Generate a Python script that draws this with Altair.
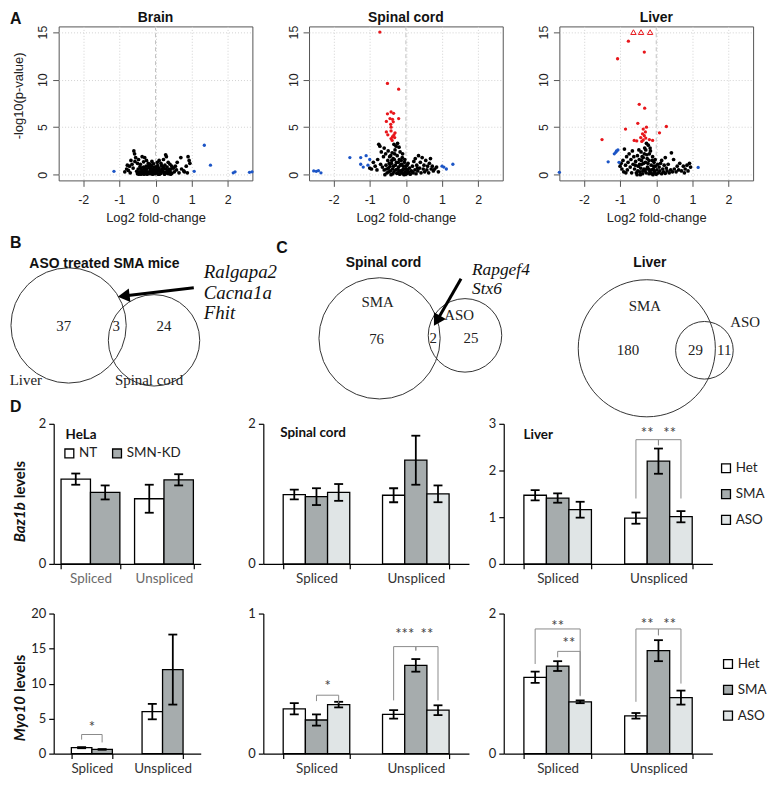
import math
import altair as alt
import pandas as pd

SANS = "Liberation Sans, Arial, Helvetica, sans-serif"
SERIF = "Liberation Serif, Times New Roman, serif"
CAL = "Lato, Open Sans, sans-serif"

# ===================== DATA =====================
brain_black = [
    (-0.50, 0.10), (-0.45, 0.30), (-0.40, 0.05), (-0.38, 0.50), (-0.35, 0.20), (-0.33, 0.80), (-0.30, 0.40), (-0.28, 0.10),
    (-0.25, 0.60), (-0.22, 0.30), (-0.20, 0.90), (-0.18, 0.15), (-0.15, 0.50), (-0.12, 0.70), (-0.10, 0.25), (-0.08, 0.05),
    (-0.05, 0.45), (-0.03, 0.80), (0.00, 0.20), (0.02, 0.60), (0.05, 0.35), (0.07, 0.05), (0.10, 0.70), (0.12, 0.40),
    (0.15, 0.15), (0.18, 0.55), (0.20, 0.85), (0.22, 0.30), (0.25, 0.05), (0.28, 0.60), (0.30, 0.25), (0.33, 0.45),
    (0.36, 0.10), (0.40, 0.35), (0.43, 0.60), (0.45, 0.15), (-0.48, 0.60), (-0.43, 0.85), (-0.36, 0.15), (-0.31, 0.65),
    (-0.27, 0.35), (-0.23, 0.05), (-0.17, 0.75), (-0.13, 0.35), (-0.07, 0.60), (-0.02, 0.10), (0.03, 0.85), (0.08, 0.50),
    (0.13, 0.20), (0.17, 0.95), (0.23, 0.70), (0.27, 0.15), (0.32, 0.80), (0.38, 0.55), (-0.52, 0.35), (-0.41, 0.70),
    (-0.26, 0.90), (-0.11, 0.95), (0.06, 0.95), (0.26, 1.00), (-0.46, 0.05), (-0.32, 0.05), (-0.14, 0.10), (0.01, 0.40),
    (0.11, 0.05), (0.34, 0.20), (0.42, 0.05), (-0.06, 0.25), (0.19, 0.35), (-0.39, 0.30),
    (-0.85, 0.30), (-0.80, 0.60), (-0.75, 0.45), (-0.72, 0.90), (-0.70, 0.20), (-0.65, 1.10), (-0.62, 0.70), (-0.60, 2.50),
    (-0.58, 2.20), (-0.57, 1.40), (-0.55, 1.80), (-0.50, 1.20), (-0.47, 1.60), (-0.42, 1.10), (-0.37, 1.90), (-0.33, 1.35),
    (-0.30, 1.80), (-0.25, 1.50), (-0.20, 1.20), (-0.15, 1.10), (-0.10, 1.40), (-0.05, 1.15), (0.05, 1.30), (0.10, 1.50),
    (0.15, 1.20), (0.22, 1.60), (0.28, 2.10), (0.30, 1.90), (0.35, 1.30), (0.40, 1.10), (0.45, 0.90), (0.50, 0.70),
    (0.52, 0.30), (0.55, 0.90), (0.58, 0.50), (0.60, 1.30), (0.65, 0.20), (0.70, 1.80), (0.72, 0.60), (0.78, 0.40),
    (0.80, 0.30), (0.85, 0.90), (0.90, 1.90), (0.93, 1.50), (0.95, 1.20), (0.88, 0.20), (-0.68, 1.50), (-0.78, 1.00),
]
brain_blue = [(-1.15, 0.35), (1.07, 0.35), (1.35, 3.10), (1.52, 1.00), (2.15, 0.20), (2.20, 0.30), (2.60, 0.25), (2.67, 0.30)]
brain_red = []

sc_black = [
    (-0.60, 0.50), (-0.55, 1.00), (-0.52, 0.20), (-0.50, 1.50), (-0.48, 0.70), (-0.45, 1.90), (-0.43, 0.40), (-0.40, 1.20),
    (-0.38, 2.30), (-0.36, 0.10), (-0.34, 0.90), (-0.32, 1.60), (-0.30, 2.60), (-0.28, 0.50), (-0.26, 1.30), (-0.24, 2.00),
    (-0.22, 0.20), (-0.20, 0.80), (-0.18, 1.60), (-0.16, 2.40), (-0.14, 0.40), (-0.12, 1.10), (-0.10, 1.80), (-0.08, 0.10),
    (-0.06, 0.60), (-0.04, 1.30), (-0.02, 0.30), (0.00, 0.90), (0.02, 0.10), (0.04, 0.50), (0.06, 1.20), (0.08, 0.30),
    (0.10, 0.70), (0.12, 0.05), (0.15, 0.40), (-0.58, 0.00), (-0.46, 1.20), (-0.41, 0.00), (-0.35, 1.70), (-0.29, 1.00),
    (-0.27, 3.00), (-0.25, 0.15), (-0.21, 1.30), (-0.19, 2.90), (-0.17, 0.05), (-0.15, 1.00), (-0.13, 1.50), (-0.11, 0.25),
    (-0.09, 2.20), (-0.07, 0.90), (-0.05, 0.00), (-0.03, 1.60), (0.01, 0.60), (0.03, 1.00), (-0.33, 3.20), (-0.23, 3.30),
    (-0.31, 2.20), (-0.39, 1.50), (-0.44, 0.90), (-0.49, 2.50), (-0.53, 0.60), (-0.47, 0.30), (-0.37, 0.60), (-0.33, 0.30),
    (-0.23, 0.60), (-0.19, 0.40), (-0.09, 0.50), (-0.01, 0.05), (0.05, 0.20), (-0.42, 2.00),
    (-1.00, 0.70), (-0.95, 0.60), (-0.90, 1.30), (-0.85, 0.90), (-0.80, 0.50), (-0.78, 1.60), (-0.75, 3.20), (-0.72, 3.00),
    (-0.70, 1.10), (-0.68, 2.40), (-0.65, 0.80), (-0.62, 1.90), (-0.60, 2.80), (-0.56, 2.20),
    (0.18, 0.90), (0.20, 0.20), (0.22, 1.40), (0.25, 0.50), (0.28, 0.10), (0.30, 1.00), (0.33, 0.40), (0.35, 2.00),
    (0.38, 0.70), (0.40, 1.30), (0.42, 0.20), (0.45, 1.80), (0.48, 0.60), (0.50, 1.00), (0.52, 0.30), (0.55, 1.50),
    (0.58, 0.50), (0.60, 0.90), (0.63, 0.20), (0.65, 1.20), (0.68, 1.70), (0.70, 0.60), (0.73, 0.90), (0.76, 0.40),
    (0.80, 0.60), (0.85, 0.80), (0.90, 0.30), (0.18, 0.30), (0.26, 1.70), (0.32, 0.70),
]
sc_blue = [(-2.55, 0.40), (-2.48, 0.35), (-2.42, 0.42), (-2.35, 0.20), (-1.55, 1.80), (-1.25, 1.80), (-1.25, 1.10),
           (-1.18, 0.80), (-1.10, 2.00), (-1.05, 1.00), (-1.00, 1.60), (1.00, 0.90), (1.05, 0.80), (1.12, 0.60), (1.30, 1.10)]
sc_red = [(-0.72, 15.0), (-0.51, 9.6), (-0.20, 9.0), (-0.51, 6.4), (-0.41, 6.6), (-0.34, 6.46), (-0.44, 5.9), (-0.37, 5.83),
          (-0.54, 5.6), (-0.35, 5.56), (-0.20, 5.9), (-0.42, 5.3), (-0.41, 5.0), (-0.54, 4.5), (-0.41, 4.6), (-0.30, 4.4),
          (-0.50, 4.2), (-0.37, 4.0), (-0.33, 4.2), (-0.41, 3.8), (-0.31, 3.9), (-0.38, 3.6)]

liver_black = [
    (-0.60, 0.60), (-0.57, 1.40), (-0.55, 0.20), (-0.52, 2.00), (-0.50, 0.90), (-0.47, 1.60), (-0.45, 0.30), (-0.42, 2.40),
    (-0.40, 1.10), (-0.38, 0.10), (-0.36, 1.80), (-0.34, 0.60), (-0.32, 2.80), (-0.30, 1.30), (-0.28, 0.20), (-0.26, 2.10),
    (-0.24, 0.80), (-0.22, 3.10), (-0.20, 1.50), (-0.18, 0.40), (-0.16, 2.50), (-0.14, 1.00), (-0.12, 0.10), (-0.10, 1.90),
    (-0.08, 0.60), (-0.06, 1.30), (-0.04, 0.20), (-0.02, 0.90), (0.00, 0.05), (0.02, 0.50), (0.04, 1.10), (-0.58, 1.00),
    (-0.53, 0.00), (-0.48, 2.60), (-0.43, 0.70), (-0.39, 1.90), (-0.35, 1.20), (-0.31, 0.40), (-0.27, 3.30), (-0.25, 1.70),
    (-0.21, 0.60), (-0.19, 2.20), (-0.15, 0.20), (-0.11, 1.50), (-0.07, 0.90), (-0.03, 1.60), (-0.33, 2.20), (-0.29, 2.60),
    (-0.17, 2.80), (-0.23, 1.20), (-0.13, 0.50), (-0.09, 0.00), (-0.41, 1.50), (-0.46, 1.10), (-0.51, 0.40), (-0.37, 0.40),
    (-0.27, 0.60), (-0.20, 0.10), (-0.05, 0.40), (-0.44, 0.00),
    (-1.00, 0.90), (-0.95, 0.60), (-0.92, 1.50), (-0.90, 0.30), (-0.88, 2.70), (-0.85, 1.00), (-0.82, 1.90), (-0.80, 0.50),
    (-0.78, 1.30), (-0.75, 2.20), (-0.72, 0.80), (-0.70, 1.60), (-0.68, 0.20), (-0.66, 2.50), (-0.64, 1.10), (-0.62, 1.90),
    (-0.97, 1.20), (-0.84, 0.20),
    (0.06, 0.20), (0.08, 0.80), (0.10, 0.40), (0.12, 1.20), (0.15, 0.10), (0.18, 0.60), (0.20, 0.30), (0.22, 1.00),
    (0.25, 0.15), (0.28, 0.70), (0.30, 0.40), (0.33, 1.10), (0.36, 0.20), (0.40, 0.50), (0.42, 2.30), (0.45, 0.30),
    (0.48, 1.60), (0.50, 0.60), (0.55, 0.30), (0.58, 0.90), (0.62, 0.50), (0.65, 1.20), (0.70, 0.40), (0.75, 0.90),
    (0.78, 0.20), (0.80, 0.60), (0.85, 1.00), (0.88, 0.40), (0.92, 1.20), (0.95, 0.80), (0.15, 1.50), (0.25, 1.80),
]
liver_blue = [(-1.16, 2.20), (-1.12, 2.35), (-1.10, 2.50), (-1.06, 2.60), (-1.33, 1.35), (-1.03, 1.30), (-2.68, 0.25), (1.16, 0.77)]
liver_red = [(-0.77, 14.05), (-0.33, 12.9), (-1.07, 12.2), (-0.47, 7.4), (-0.32, 7.0), (-0.85, 4.8), (-0.51, 5.4),
             (-0.27, 5.0), (-0.36, 4.8), (0.28, 5.07), (0.09, 4.4), (-1.50, 3.7), (-0.61, 3.6), (-0.54, 3.55),
             (-0.38, 4.3), (-0.33, 4.1), (-0.43, 3.9), (-0.29, 3.85), (-0.19, 3.7), (-0.10, 3.6), (-0.36, 3.65),
             (-0.40, 3.5), (-0.30, 4.5)]
liver_capped = [(-0.63, 15.0), (-0.42, 15.0), (-0.17, 15.0)]

volcano_titles = ["Brain", "Spinal cord", "Liver"]
lfc_ticks = [-2, -1, 0, 1, 2]
nlp_ticks = [0, 5, 10, 15]

venn_b_counts = [37, 3, 24]
venn_c_sc_counts = [76, 2, 25]
venn_c_liver_counts = [180, 29, 11]
venn_titles = ["ASO treated SMA mice", "Spinal cord", "Liver"]
venn_set_labels = ["Liver", "Spinal cord", "SMA", "ASO", "SMA", "ASO"]
genes_b = ["Ralgapa2", "Cacna1a", "Fhit"]
genes_c = ["Rapgef4", "Stx6"]

categories = ["Spliced", "Unspliced"]
hela_groups = ["NT", "SMN-KD"]
mouse_groups = ["Het", "SMA", "ASO"]

baz1b_hela_mean = [1.21, 1.02, 0.93, 1.20]
baz1b_hela_err = [0.08, 0.10, 0.20, 0.08]
baz1b_sc_mean = [0.99, 0.96, 1.02, 0.98, 1.48, 1.00]
baz1b_sc_err = [0.07, 0.12, 0.12, 0.10, 0.35, 0.12]
baz1b_liver_mean = [1.47, 1.41, 1.16, 0.98, 2.20, 1.01]
baz1b_liver_err = [0.11, 0.10, 0.17, 0.12, 0.27, 0.12]
myo10_hela_mean = [0.85, 0.60, 6.0, 12.0]
myo10_hela_err = [0.08, 0.05, 1.1, 5.0]
myo10_sc_mean = [0.32, 0.24, 0.35, 0.28, 0.63, 0.31]
myo10_sc_err = [0.04, 0.04, 0.02, 0.03, 0.045, 0.035]
myo10_liver_mean = [1.09, 1.25, 0.74, 0.54, 1.47, 0.80]
myo10_liver_err = [0.08, 0.07, 0.02, 0.04, 0.15, 0.10]

baz1b_liver_sig = [("Unspliced", "Het", "SMA", 1.40, 2.66, 2.54, "**", 2.88),
                   ("Unspliced", "SMA", "ASO", 2.54, 2.66, 1.40, "**", 2.88)]
myo10_hela_sig = [("Spliced", "NT", "SMN-KD", 2.0, 2.73, 1.6, "*", 4.3)]
myo10_sc_sig = [("Spliced", "SMA", "ASO", 0.375, 0.417, 0.36, "*", 0.51),
                ("Unspliced", "Het", "SMA", 0.38, 0.764, 0.736, "***", 0.885),
                ("Unspliced", "SMA", "ASO", 0.736, 0.764, 0.38, "**", 0.885)]
myo10_liver_sig = [("Spliced", "Het", "ASO", 1.28, 1.78, 0.83, "**", 1.88),
                   ("Spliced", "SMA", "ASO", 1.375, 1.46, 0.82, "**", 1.63),
                   ("Unspliced", "Het", "SMA", 0.74, 1.78, 1.69, "**", 1.90),
                   ("Unspliced", "SMA", "ASO", 1.69, 1.78, 1.00, "**", 1.90)]

# ===================== LAYOUT (pixels) =====================
VW, VH = 195, 155
BH = 141
ROW_TOPS = [25, 231, 425, 616]   # top of each row of panels
VENN_W, VENN_H = 700, 140
VENN_X0, VENN_Y0 = 52, ROW_TOPS[1]
venn_circles = [(67, 326, 58), (153, 341, 46), (380, 339, 61), (466, 336, 37), (649, 349, 69), (707, 351, 29)]
venn_number_pos = [(62, 327), (115, 327), (163, 327), (377, 340), (434, 339), (472, 339), (630, 351), (698, 351), (727, 351)]
venn_set_pos = [(24, 381), (148, 381), (378, 302), (460, 316), (647, 306), (748, 323)]
venn_title_pos = [(103, 264), (384, 263), (652, 263)]
genes_b_pos = [(203, 272), (203, 293), (203, 314)]
genes_c_pos = [(473, 270), (473, 289)]
arrows = [((193, 288), (117, 297)), ((462, 279), (435, 326))]
letters_venn = [("B", 8, 235), ("C", 276, 240), ("D", 8, 400)]


def text_layer(txt, x, y, **kw):
    return alt.Chart(pd.DataFrame({"t": [txt]})).mark_text(**kw).encode(
        text="t:N", x=alt.value(x), y=alt.value(y))


def volcano(title, black, blue, red, capped, ytitle=None, letter=None):
    xs = alt.Scale(domain=[-2.68, 2.68], nice=False, zero=False)
    ys = alt.Scale(domain=[-0.6, 15.6], nice=False, zero=False)
    common = dict(grid=True, gridColor="#d2d2d2", gridDash=[1, 2], gridWidth=1, domain=False,
                  tickColor="#555", tickSize=6, labelFont=SANS, labelFontSize=12.5, labelColor="#222",
                  labelExpr="datum.value + ''")
    xax = alt.Axis(values=lfc_ticks, labelPadding=7, title="Log2 fold-change", titleFont=SANS,
                   titleFontSize=13, titleFontWeight="normal", titleColor="#222", titlePadding=6, **common)
    yax = alt.Axis(values=nlp_ticks, labelAngle=270, labelAlign="center", labelBaseline="bottom",
                   labelPadding=3, title=None, **common)
    X = alt.X("lfc:Q", scale=xs, axis=xax)
    Y = alt.Y("nlp:Q", scale=ys, axis=yax)

    def df(p):
        return pd.DataFrame(p, columns=["lfc", "nlp"])

    layers = [alt.Chart(df([(0, 0)])).mark_rule(color="#c2c2c2", strokeDash=[4, 3], strokeWidth=1).encode(x=X)]
    for pts, col, sz in ((black, "black", 14), (blue, "#1c55c6", 11), (red, "#e8161b", 11)):
        if pts:
            layers.append(alt.Chart(df(pts)).mark_circle(size=sz, color=col, opacity=1).encode(x=X, y=Y))
    if capped:
        layers.append(alt.Chart(df(capped)).mark_point(shape="triangle-up", filled=False, color="#e8161b",
                                                       size=30, strokeWidth=1, opacity=1).encode(x=X, y=Y))
    layers.append(text_layer(title, VW / 2, -15, font=SANS, fontSize=14, fontWeight="bold",
                             align="center", baseline="top", color="#111"))
    if ytitle:
        layers.append(text_layer(ytitle, -40, 70, font=SANS, fontSize=13, angle=270, align="center",
                                 baseline="middle", color="#222"))
    if letter:
        layers.append(text_layer(letter, -49, -15, font=SANS, fontSize=16, fontWeight="bold",
                                 align="left", baseline="top", color="#111"))
    return alt.layer(*layers).properties(width=VW, height=VH,
                                         view=alt.ViewBackground(stroke="#555", strokeWidth=1))


def bar_panel(groups, fills, means, errs, ymax, yticks, width, pad_in, pad_out,
              legend=None, label=None, label_pos=(12, 11), ytitle=None, sig=(), cat_color="#333"):
    rows, k = [], 0
    for c in categories:
        for g in groups:
            rows.append({"cat": c, "grp": g, "val": means[k], "lo": means[k] - errs[k], "hi": means[k] + errs[k]})
            k += 1
    data = pd.DataFrame(rows)
    xax = alt.Axis(title=None, labelAngle=0, tickBand="extent", domainColor="black", domainWidth=1.2,
                   tickColor="black", tickWidth=1.2, tickSize=5, labelFont=CAL, labelFontSize=13.5,
                   labelColor=cat_color, labelPadding=3)
    yax = alt.Axis(title=None, values=yticks, format="d", grid=False, domainColor="black", domainWidth=1.2,
                   tickColor="black", tickWidth=1.2, tickSize=5, labelFont=CAL, labelFontSize=13,
                   labelColor="#222", labelPadding=3)
    X = alt.X("cat:N", sort=categories, scale=alt.Scale(domain=categories, paddingInner=pad_in, paddingOuter=pad_out), axis=xax)
    XO = alt.XOffset("grp:N", sort=groups, scale=alt.Scale(domain=groups, paddingInner=0, paddingOuter=0))
    ys = alt.Scale(domain=[0, ymax], nice=False)
    base = alt.Chart(data)
    bars = base.mark_bar(stroke="black", strokeWidth=1.3).encode(
        x=X, xOffset=XO, y=alt.Y("val:Q", scale=ys, axis=yax),
        fill=alt.Fill("grp:N", sort=groups, scale=alt.Scale(domain=groups, range=fills), legend=legend))
    whisk = base.mark_rule(color="black", strokeWidth=1.8).encode(
        x=X, xOffset=XO, y=alt.Y("lo:Q", scale=ys, axis=yax), y2="hi:Q")
    caps = base.transform_fold(["lo", "hi"], as_=["end", "yv"]).mark_tick(
        color="black", thickness=1.8, size=9, opacity=1).encode(
        x=X, xOffset=XO, y=alt.Y("yv:Q", scale=ys, axis=yax))
    layers = [bars, whisk, caps]

    if sig:
        step = width / (len(categories) - pad_in + 2 * pad_out)
        sub = (1 - pad_in) * step / len(groups)
        brows, on_rows, half_rows = [], [], []
        for i, (c, ga, gb, ya, yt, yb, st, sy) in enumerate(sig):
            brows += [{"bid": i, "k": 0, "cat": c, "grp": ga, "yv": ya},
                      {"bid": i, "k": 1, "cat": c, "grp": ga, "yv": yt},
                      {"bid": i, "k": 2, "cat": c, "grp": gb, "yv": yt},
                      {"bid": i, "k": 3, "cat": c, "grp": gb, "yv": yb}]
            ia, ib = groups.index(ga), groups.index(gb)
            row = {"cat": c, "grp": groups[(ia + ib) // 2], "yv": sy, "st": st}
            (on_rows if (ia + ib) % 2 == 0 else half_rows).append(row)
        layers.append(alt.Chart(pd.DataFrame(brows)).mark_line(color="#8a8a8a", strokeWidth=1).encode(
            x=X, xOffset=XO, y=alt.Y("yv:Q", scale=ys, axis=yax), detail="bid:N", order="k:Q"))
        for rws, dx in ((on_rows, 0), (half_rows, sub / 2)):
            if rws:
                layers.append(alt.Chart(pd.DataFrame(rws)).mark_text(
                    font=CAL, fontSize=15, color="#444", baseline="middle", dy=4, dx=dx).encode(
                    x=X, xOffset=XO, y=alt.Y("yv:Q", scale=ys, axis=yax), text="st:N"))
    if label:
        layers.append(text_layer(label, label_pos[0], label_pos[1], font=CAL, fontSize=13.5,
                                 fontWeight="bold", align="left", baseline="middle", color="#111"))
    if ytitle:
        gene, pos = ytitle
        layers.append(text_layer(gene, -34, pos, font=CAL, fontSize=15, fontWeight="bold", fontStyle="italic",
                                 angle=270, align="right", baseline="middle", color="#111"))
        layers.append(text_layer("levels", -34, pos, font=CAL, fontSize=15, fontWeight="bold", dx=4,
                                 angle=270, align="left", baseline="middle", color="#111"))
    return alt.layer(*layers).properties(width=width, height=BH)


def legend_box(x, y, direction):
    return alt.Legend(orient="none", legendX=x, legendY=y, direction=direction, title=None,
                      symbolType="square", symbolSize=80, symbolStrokeColor="black", symbolStrokeWidth=1.3,
                      labelFont=CAL, labelFontSize=13.5, labelColor="#222", labelOffset=3,
                      columnPadding=12, rowPadding=11, padding=0)


HELA_FILL = ["white", "#a6acad"]
MOUSE_FILL = ["white", "#a6acad", "#e0e5e6"]


def venn_panel():
    xs = alt.Scale(domain=[VENN_X0, VENN_X0 + VENN_W], nice=False, zero=False)
    ys = alt.Scale(domain=[VENN_Y0, VENN_Y0 + VENN_H], nice=False, zero=False, reverse=True)
    X = alt.X("px:Q", scale=xs, axis=None)
    Y = alt.Y("py:Q", scale=ys, axis=None)

    def tdf(texts, pos):
        return pd.DataFrame({"t": [str(t) for t in texts], "px": [p[0] for p in pos], "py": [p[1] for p in pos]})

    circ = pd.DataFrame({"px": [c[0] for c in venn_circles], "py": [c[1] for c in venn_circles],
                         "s": [(2 * c[2]) ** 2 for c in venn_circles]})
    layers = [alt.Chart(circ).mark_point(shape="circle", filled=False, color="#333", strokeWidth=1, opacity=1)
              .encode(x=X, y=Y, size=alt.Size("s:Q", scale=None))]
    counts = venn_b_counts + venn_c_sc_counts + venn_c_liver_counts
    layers.append(alt.Chart(tdf(counts, venn_number_pos)).mark_text(font=SERIF, fontSize=15, color="#222")
                  .encode(x=X, y=Y, text="t:N"))
    layers.append(alt.Chart(tdf(venn_set_labels, venn_set_pos)).mark_text(font=SERIF, fontSize=15, color="#222")
                  .encode(x=X, y=Y, text="t:N"))
    layers.append(alt.Chart(tdf(venn_titles, venn_title_pos)).mark_text(font=SANS, fontSize=14, fontWeight="bold",
                                                                         color="#111").encode(x=X, y=Y, text="t:N"))
    layers.append(alt.Chart(tdf(genes_b, genes_b_pos)).mark_text(
        font=SERIF, fontSize=19, fontStyle="italic", align="left", color="#111").encode(x=X, y=Y, text="t:N"))
    layers.append(alt.Chart(tdf(genes_c, genes_c_pos)).mark_text(
        font=SERIF, fontSize=17.5, fontStyle="italic", align="left", color="#111").encode(x=X, y=Y, text="t:N"))
    shafts, heads = [], []
    for (sx, sy), (ex, ey) in arrows:
        L = math.hypot(ex - sx, ey - sy)
        ux, uy = (ex - sx) / L, (ey - sy) / L
        cx, cy = ex - ux * 5.5, ey - uy * 5.5
        shafts.append({"px": sx, "py": sy, "px2": cx, "py2": cy})
        heads.append({"px": cx, "py": cy, "ang": math.degrees(math.atan2(ux, -uy)) % 360})
    layers.append(alt.Chart(pd.DataFrame(shafts)).mark_rule(color="black", strokeWidth=3)
                  .encode(x=X, y=Y, x2="px2:Q", y2="py2:Q"))
    layers.append(alt.Chart(pd.DataFrame(heads)).mark_point(shape="triangle-up", filled=True, color="black",
                                                             size=190, opacity=1)
                  .encode(x=X, y=Y, angle=alt.Angle("ang:Q", scale=None)))
    let = pd.DataFrame({"t": [l[0] for l in letters_venn], "px": [l[1] for l in letters_venn],
                        "py": [l[2] for l in letters_venn]})
    layers.append(alt.Chart(let).mark_text(font=SANS, fontSize=16, fontWeight="bold", align="left",
                                           baseline="top", color="#111").encode(x=X, y=Y, text="t:N"))
    return alt.layer(*layers).properties(width=VENN_W, height=VENN_H)


def spacer(w, h):
    return alt.Chart(pd.DataFrame({"v": [0]})).mark_point(opacity=0, size=1).encode(
        x=alt.X("v:Q", axis=None), y=alt.Y("v:Q", axis=None)).properties(width=w, height=h)


brain = volcano(volcano_titles[0], brain_black, brain_blue, brain_red, [], ytitle="-log10(p-value)", letter="A")
sc_v = volcano(volcano_titles[1], sc_black, sc_blue, sc_red, [])
liver_v = volcano(volcano_titles[2], liver_black, liver_blue, liver_red, liver_capped)

hela1 = bar_panel(hela_groups, HELA_FILL, baz1b_hela_mean, baz1b_hela_err, 2, [0, 1, 2], 148, 0.2, 0.1,
                  legend=legend_box(9, 23, "horizontal"), label="HeLa", label_pos=(12, 11), ytitle=("Baz1b", 79),
                  cat_color="#6a6a6a")
sc1 = bar_panel(mouse_groups, MOUSE_FILL, baz1b_sc_mean, baz1b_sc_err, 2, [0, 1, 2], 207, 0.33, 0.2,
                label="Spinal cord", label_pos=(17, 9))
liver1 = bar_panel(mouse_groups, MOUSE_FILL, baz1b_liver_mean, baz1b_liver_err, 3, [0, 1, 2, 3], 210, 0.33, 0.2,
                   legend=legend_box(217, 38, "vertical"), label="Liver", label_pos=(20, 11), sig=baz1b_liver_sig)
hela2 = bar_panel(hela_groups, HELA_FILL, myo10_hela_mean, myo10_hela_err, 20, [0, 5, 10, 15, 20], 148, 0.42, 0.25,
                  ytitle=("Myo10", 83), sig=myo10_hela_sig)
sc2 = bar_panel(mouse_groups, MOUSE_FILL, myo10_sc_mean, myo10_sc_err, 1, [0, 1], 207, 0.33, 0.2, sig=myo10_sc_sig)
liver2 = bar_panel(mouse_groups, MOUSE_FILL, myo10_liver_mean, myo10_liver_err, 2, [0, 1, 2], 210, 0.33, 0.2,
                   legend=legend_box(219, 44, "vertical"), sig=myo10_liver_sig)

RES = dict(fill="independent", xOffset="independent")


def row(*charts, gaps):
    cells = []
    for g, c in zip(gaps, charts):
        cells += [spacer(g, 1), c]
    return alt.hconcat(*cells, spacing=0, bounds="flush").resolve_scale(**RES)


rows = [row(brain, sc_v, liver_v, gaps=[6, 57, 57]),
        row(venn_panel(), gaps=[1]),
        row(hela1, sc1, liver1, gaps=[1, 63, 35]),
        row(hela2, sc2, liver2, gaps=[1, 63, 35])]

# nested rows take no height in a flush stack, so vertical steps come from spacer blocks
stack = [rows[0]]
for i in range(1, len(rows)):
    stack += [spacer(1, ROW_TOPS[i] - ROW_TOPS[i - 1]), rows[i]]

chart = alt.vconcat(*stack, spacing=0, bounds="flush").resolve_scale(**RES).properties(
    padding=0, background="white").configure_view(stroke="transparent")

chart.save("out.html", embed_options={"renderer": "svg", "actions": False})
